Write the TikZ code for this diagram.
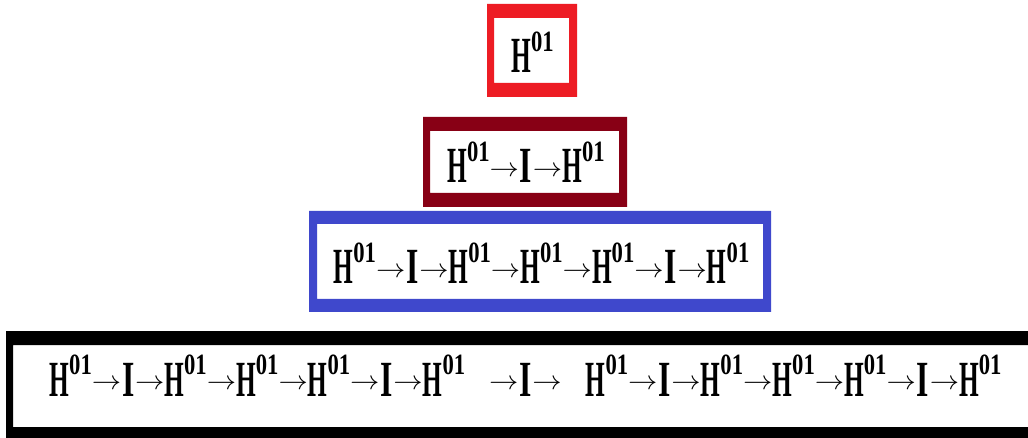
\documentclass[tikz,border=0pt]{standalone}
\usepackage{fontspec}
\setmainfont{Liberation Serif}
\usepackage{graphicx}

\definecolor{frameRed}{HTML}{ED1C24}
\definecolor{frameWine}{HTML}{880015}
\definecolor{frameBlue}{HTML}{3F48CC}

% pieces of the chain, set in a tall condensed look
\newcommand\SupOI{\raisebox{7.9pt}{\scalebox{1}[0.65]{\fontsize{17}{17}\selectfont 01}}}
\newcommand\Hn{H\SupOI}
\newcommand\Iv{\hspace{0.6pt}\scalebox{1.25}[1]{I}\hspace{0.6pt}}
\newcommand\Ar{\raisebox{2.4pt}{\scalebox{2.2}[1]{\fontsize{10}{10}\selectfont$\rightarrow$}}}
\newcommand\Chain[1]{\scalebox{1}[2]{\fontsize{19}{19}\selectfont\bfseries #1}}

\tikzset{
  frame/.style={even odd rule},
  chain/.style={anchor=base, inner sep=0pt}
}

\begin{document}
\begin{tikzpicture}[x=0.75pt, y=-0.75pt]
  \useasboundingbox (0,0) rectangle (1028,438);
  \fill[white] (0,0) rectangle (1028,438);
  \clip (0,0) rectangle (1028,438);

  % level 1
  \fill[frameRed, frame] (487,4) rectangle (577,97) (494,18) rectangle (569,83);
  \node[chain] (l1) at (532.5,73) {\Chain{\Hn}};

  % level 2
  \fill[frameWine, frame] (423,117) rectangle (627,207) (430,131) rectangle (619,193);
  \node[chain] (l2) at (526,183) {\Chain{\Hn\Ar\Iv\Ar\Hn}};

  % level 3
  \fill[frameBlue, frame] (309,211) rectangle (771,312) (317,224) rectangle (763,299);
  \node[chain] (l3) at (541.5,284) {\Chain{\Hn\Ar\Iv\Ar\Hn\Ar\Hn\Ar\Hn\Ar\Iv\Ar\Hn}};

  % level 4 (runs off the right edge)
  \fill[black, frame] (6,331) rectangle (1050,460) (13,345) rectangle (1050,427);
  \node[chain] (l4) at (525.5,396) {\Chain{\Hn\Ar\Iv\Ar\Hn\Ar\Hn\Ar\Hn\Ar\Iv\Ar\Hn\hspace{18pt}\Ar\Iv\Ar\hspace{18pt}\Hn\Ar\Iv\Ar\Hn\Ar\Hn\Ar\Hn\Ar\Iv\Ar\Hn}};
\end{tikzpicture}
\end{document}
